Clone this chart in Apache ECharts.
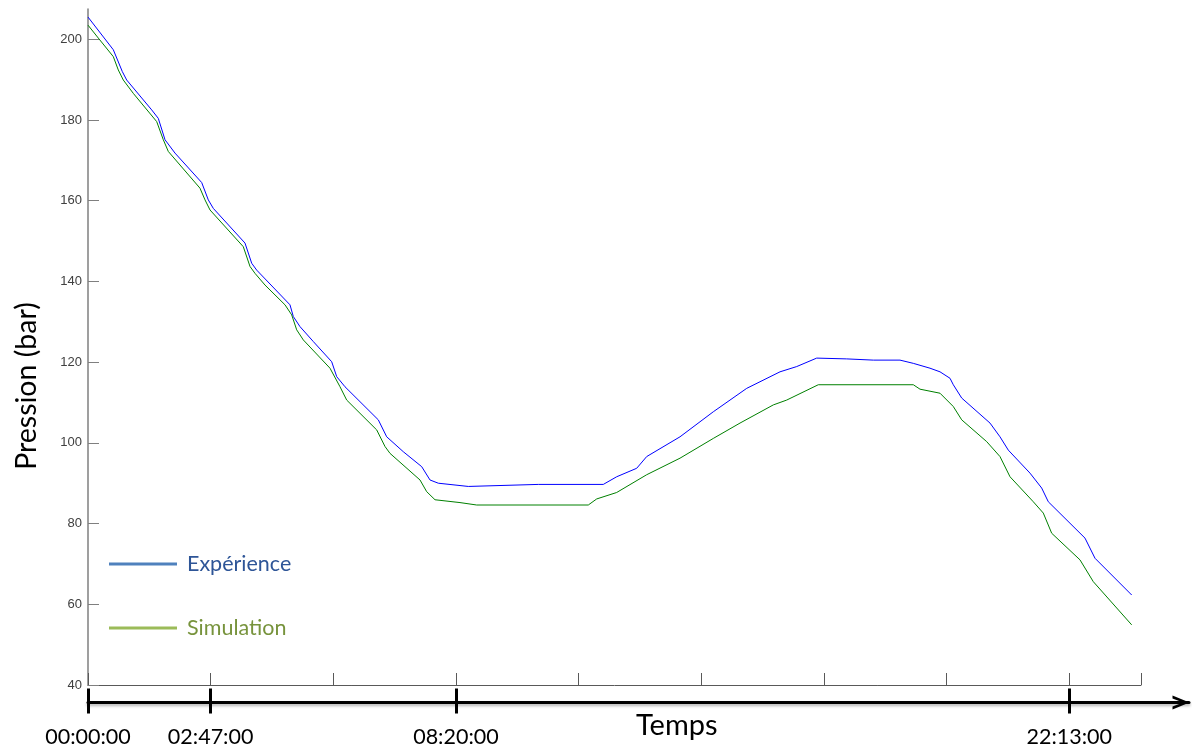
<!DOCTYPE html>
<html>
<head>
<meta charset="utf-8">
<style>html,body{margin:0;padding:0;background:#fff;}#c{width:1192px;height:749px;}</style>
<script src="https://cdn.jsdelivr.net/npm/echarts@6/dist/echarts.min.js"></script>
</head>
<body>
<div id="c"></div>
<script>
// Time in seconds, pressure in bar
const expTime = [0,2063,2797,3155,5193,5732,6278,7093,9270,9808,10216,12800,13346,13754,16469,16738,17284,18369,19869,20277,20953,23668,24353,25707,27207,27883,28560,31006,36713,42012,43105,44736,45551,48266,50981,53704,56419,57780,59411,61857,64026,66202,67287,68648,69464,70279,70548,71233,73540,74355,75032,76801,77755,78293,81285,82101,85093];
const expPressure = [205.5,197.4,192.0,189.9,182.5,180.4,175.1,171.8,164.5,160.2,158.1,149.5,144.5,142.8,134.2,131.3,128.8,125.1,120.1,116.4,113.9,105.7,101.5,97.8,94.1,90.8,90.0,89.2,89.7,89.7,91.6,93.7,96.6,101.5,107.7,113.5,117.6,118.9,121.0,120.8,120.5,120.5,119.7,118.5,117.6,116.0,114.4,111.1,104.9,101.5,98.2,92.5,88.8,85.4,76.4,71.4,62.3];
const simTime = [0,840,2063,2470,2878,3693,5601,6139,6547,9131,9539,9947,12662,13208,13616,14431,16061,16608,17015,17554,19730,20546,21092,23538,24214,24622,27068,27614,28291,30329,31691,40789,41474,43105,45551,48266,50981,53158,55873,56965,59541,67287,67833,69464,70548,71233,73271,74355,75171,77070,77886,78571,80878,81962,85093];
const simPressure = [203.5,200.3,195.7,192.4,189.9,186.6,179.6,175.1,172.2,163.1,160.2,157.7,148.6,143.7,142.0,139.1,134.2,131.7,128.0,125.5,118.5,113.9,110.6,103.2,99.1,97.4,90.8,87.9,85.9,85.2,84.6,84.6,86.1,87.7,92.1,96.2,101.1,104.9,109.4,110.6,114.4,114.4,113.3,112.3,109.0,105.7,100.3,96.6,91.6,85.4,82.6,77.6,71.0,65.6,54.9];
const timeTickValues = [0, 10000, 30000, 80000];
const timeTickLabels = ['00:00:00', '02:47:00', '08:20:00', '22:13:00'];
const seriesNames = ['Expérience', 'Simulation'];
const xLabel = 'Temps';
const yLabel = 'Pression (bar)';

const zip = (a, b) => a.map((t, i) => [t, b[i]]);
const chart = echarts.init(document.getElementById('c'), null, {renderer: 'canvas'});

const lblFont = 'Lato';
const arrowPath = 'path://M0,17 L7,0 L14,17 L11,17 L7,6.5 L3,17 Z';

chart.setOption({
  animation: false,
  backgroundColor: '#ffffff',
  grid: [
    {left: 88, top: 9, width: 1053, height: 676, outerBoundsMode: 'none', containLabel: false},
    {left: 88, top: 600, width: 1101, height: 102.5, outerBoundsMode: 'none', containLabel: false}
  ],
  title: {
    text: xLabel, left: 636, top: 711, padding: 0,
    textStyle: {fontFamily: lblFont, fontSize: 29, fontWeight: 'normal', color: '#000'}
  },
  legend: {
    orient: 'vertical', left: 109, top: 553, itemGap: 42, padding: 0,
    icon: 'rect', itemWidth: 68, itemHeight: 3,
    textStyle: {fontFamily: lblFont, fontSize: 21.5, padding: [0, 0, 0, 5]},
    data: [
      {name: seriesNames[0], itemStyle: {color: '#4F81BD'}, textStyle: {color: '#2E5597'}},
      {name: seriesNames[1], itemStyle: {color: '#9BBB59'}, textStyle: {color: '#77933C'}}
    ]
  },
  xAxis: [
    {
      type: 'value', gridIndex: 0, min: 0, max: 85851, interval: 10000,
      axisLine: {show: true, onZero: false, lineStyle: {color: '#595959', width: 1}},
      axisTick: {show: true, inside: true, length: 12, lineStyle: {color: '#595959', width: 1}},
      axisLabel: {show: false}, splitLine: {show: false}
    },
    {
      type: 'value', gridIndex: 1, min: 0, max: 89765, position: 'bottom',
      axisLine: {show: true, onZero: false, symbol: ['none', arrowPath], symbolSize: [14, 17], symbolOffset: [0, -8],
        lineStyle: {color: '#000', width: 3, shadowColor: 'rgba(0,0,0,0.3)', shadowBlur: 3, shadowOffsetY: 2}},
      axisTick: {show: true, inside: false, length: 11, customValues: timeTickValues, lineStyle: {color: '#000', width: 3}},
      axisLabel: {show: true, margin: 24, customValues: timeTickValues, fontFamily: lblFont, fontSize: 21.5, color: '#000',
        formatter: v => { const i = timeTickValues.indexOf(v); return i >= 0 ? timeTickLabels[i] : ''; }},
      splitLine: {show: false}
    },
    {
      type: 'value', gridIndex: 1, min: 0, max: 89765, position: 'bottom',
      axisLine: {show: false},
      axisTick: {show: true, inside: true, length: 14, customValues: timeTickValues, lineStyle: {color: '#000', width: 3}},
      axisLabel: {show: false}, splitLine: {show: false}
    }
  ],
  yAxis: [
    {
      type: 'value', gridIndex: 0, min: 40, max: 207.5, interval: 20,
      axisLine: {show: true, lineStyle: {color: '#7f7f7f', width: 1.5}},
      axisTick: {show: true, inside: true, length: 11, lineStyle: {color: '#7f7f7f', width: 1}},
      axisLabel: {show: true, margin: 6, showMaxLabel: false, fontFamily: 'Liberation Sans', fontSize: 13, color: '#404040'},
      splitLine: {show: false}
    },
    {type: 'value', gridIndex: 1, min: 0, max: 1, show: false}
  ],
  graphic: [
    {type: 'text', x: 27, y: 386, rotation: Math.PI / 2,
      style: {text: yLabel, fontFamily: lblFont, fontSize: 28.5, fill: '#000', textAlign: 'center', textVerticalAlign: 'middle'}}
  ],
  series: [
    {name: seriesNames[0], type: 'line', xAxisIndex: 0, yAxisIndex: 0, data: zip(expTime, expPressure),
      showSymbol: false, symbol: 'none', lineStyle: {color: '#0000ff', width: 1}, itemStyle: {color: '#0000ff'}},
    {name: seriesNames[1], type: 'line', xAxisIndex: 0, yAxisIndex: 0, data: zip(simTime, simPressure),
      showSymbol: false, symbol: 'none', lineStyle: {color: '#008000', width: 1}, itemStyle: {color: '#008000'}}
  ]
});
</script>
</body>
</html>
